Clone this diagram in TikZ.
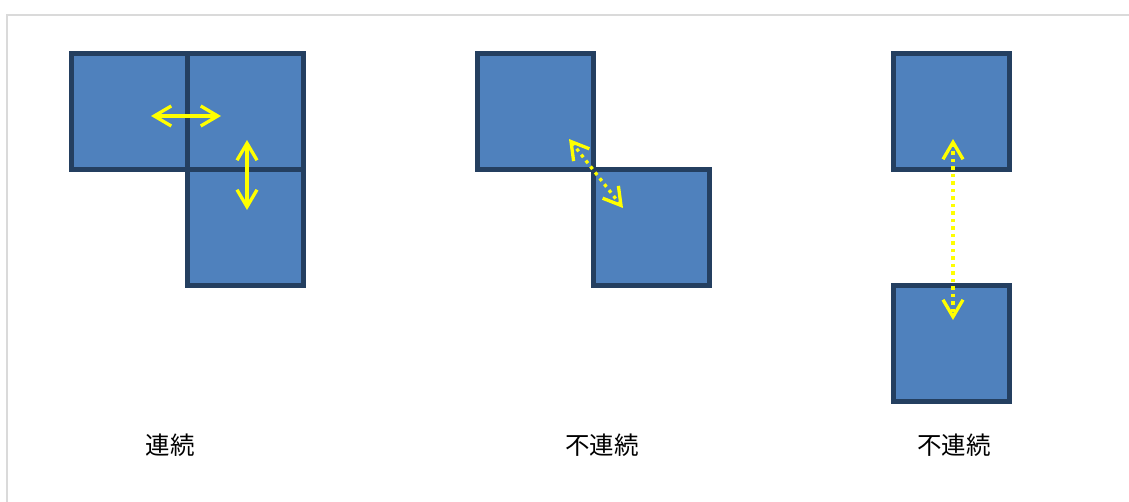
\documentclass[tikz,border=0pt]{standalone}
\usepackage{fontspec}
\newfontfamily\cjk{Noto Sans CJK JP}
\usetikzlibrary{arrows.meta}
\definecolor{cellfill}{HTML}{4F81BD}
\definecolor{celledge}{HTML}{243F60}
\definecolor{framegray}{HTML}{DADADA}
\definecolor{arrowyellow}{HTML}{FFFF00}
\tikzset{
  cell/.style={draw=celledge, fill=cellfill, line width=5pt, minimum size=116pt, inner sep=0pt, outer sep=0pt},
  label/.style={font=\cjk\fontsize{24.5pt}{28pt}\selectfont, inner sep=0pt},
  link/.style={draw=arrowyellow, line width=3.3pt, {Straight Barb[length=17pt,width=20pt,line width=3.3pt]}-{Straight Barb[length=17pt,width=20pt,line width=3.3pt]}},
  gaplink/.style={link, dash pattern=on 3.3pt off 4.2pt},
  frameline/.style={draw=framegray, line width=2pt}
}
\begin{document}
\begin{tikzpicture}[x=1pt,y=-1pt]
\useasboundingbox (0,0) rectangle (1129,502);
\coordinate (fbl) at (7,502);
\coordinate (ftl) at (7,15);
\coordinate (ftr) at (1129,15);
\draw[frameline] (fbl) -- (ftl) -- (ftr);
% group 1: connected
\node[cell] (a1) at (129.5,111.5) {};
\node[cell] (b1) at (245.5,111.5) {};
\node[cell] (c1) at (245.5,227.5) {};
% group 2: diagonal
\node[cell] (a2) at (535.5,111.5) {};
\node[cell] (b2) at (651.5,227.5) {};
% group 3: separated
\node[cell] (a3) at (951.5,111.5) {};
\node[cell] (b3) at (951.5,343.5) {};
% arrow ends
\coordinate (h1s) at (151,116);
\coordinate (h1e) at (221,116);
\coordinate (v1s) at (247,140);
\coordinate (v1e) at (247,210);
\coordinate (d2s) at (569,139);
\coordinate (d2e) at (623,208);
\coordinate (v3s) at (953,139);
\coordinate (v3e) at (953,320);
\draw[link] (h1s) -- (h1e);
\draw[link] (v1s) -- (v1e);
\draw[gaplink] (d2s) -- (d2e);
\draw[gaplink] (v3s) -- (v3e);
% labels
\node[label] (l1) at (170,445.5) {連続};
\node[label] (l2) at (602,445.5) {不連続};
\node[label] (l3) at (954,445.5) {不連続};
\end{tikzpicture}
\end{document}
